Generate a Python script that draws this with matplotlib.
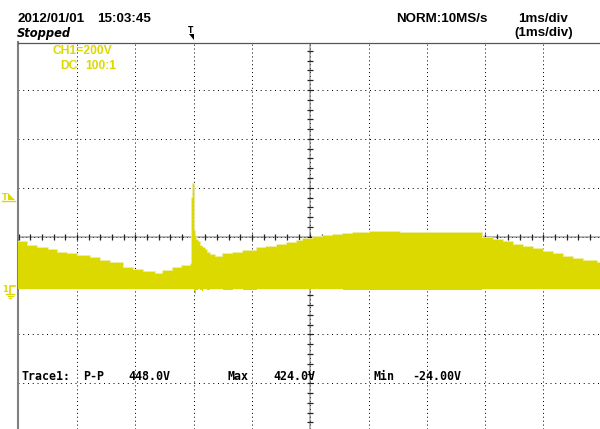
import numpy as np
import matplotlib.pyplot as plt

plt.rcParams['lines.scale_dashes'] = False

# scope settings
time_per_div = 1.0      # ms/div
volts_per_div = 200.0   # V/div (CH1=200V)
ground_div = 1.05       # CH1 ground marker sits this many divs below centre

# CH1 envelope: upper and lower edge of the yellow band (time in ms, volts)
t_ms = [-5.02, -4.86, -4.69, -4.50, -4.34, -4.17, -4.00, -3.78, -3.61, -3.44,
        -3.21, -3.04, -2.87, -2.66, -2.53, -2.35, -2.20, -2.05, -2.03, -2.01,
        -1.99, -1.98, -1.96, -1.93, -1.89, -1.86, -1.84, -1.80, -1.77, -1.72,
        -1.64, -1.50, -1.32, -1.15, -0.92, -0.75, -0.57, -0.40, -0.23, -0.12,
        0.05, 0.22, 0.39, 0.56, 0.73, 1.03, 1.54, 2.23, 2.79, 2.94,
        3.14, 3.31, 3.48, 3.65, 3.82, 3.99, 4.16, 4.34, 4.51, 4.68,
        4.92, 4.97]
v_upper = [188, 172, 164, 155, 143, 139, 131, 123, 110, 102,
           82, 74, 65, 57, 70, 82, 90, 98, 368, 424,
           232, 213, 196, 190, 172, 168, 164, 155, 143, 136,
           128, 138, 144, 153, 163, 169, 176, 185, 192, 200,
           207, 213, 218, 221, 226, 228, 225, 224, 224, 206,
           196, 187, 176, 166, 158, 148, 138, 128, 117, 112,
           103, 102]
v_lower = [-2, -4, -3, -6, -3, -4, -3, -6, -3, -4,
           -3, -3, -4, -3, -3, -4, -3, -3, -3, -3,
           -12, -24, -10, -6, -8, -12, -6, -4, -10, -4,
           -4, -8, -4, -10, -4, -4, -6, -4, -4, -4,
           -6, -6, -6, -8, -8, -8, -8, -8, -8, -6,
           -4, -6, -4, -4, -4, -6, -4, -4, -4, -4,
           -4, -4]

date_txt = "2012/01/01"
time_txt = "15:03:45"
state_txt = "Stopped"
acq_txt = "NORM:10MS/s"
tb_txt = "1ms/div"
tb2_txt = "(1ms/div)"
ch_txt = "CH1=200V"
coup_txt = ["DC", "100:1"]
meas_names = ["Trace1:", "P-P", "Max", "Min"]
meas_vals = ["448.0V", "424.0V", "-24.00V"]

yellow = '#dcd900'
W, H = 600, 429

fig = plt.figure(figsize=(6.0, 4.29), dpi=100)


def rect(x0, y0, x1, y1):
    return [x0 / W, 1 - y1 / H, (x1 - x0) / W, (y1 - y0) / H]


ax = fig.add_axes(rect(17.5, 42.5, 600, 429))
vc = ground_div * volts_per_div
ax.set_xlim(-5.02 * time_per_div, 4.97 * time_per_div)
ax.set_ylim(vc - 3.933 * volts_per_div, vc + 3.971 * volts_per_div)
ax.set_xticks([])
ax.set_yticks([])
for s in ['right', 'bottom']:
    ax.spines[s].set_visible(False)
ax.spines['left'].set_color('#808080')
ax.spines['left'].set_linewidth(1.5)
ax.spines['top'].set_color('#555555')
ax.spines['top'].set_linewidth(0.9)

# dotted graticule
for k in range(-4, 5):
    if k != 0:
        ax.axvline(k * time_per_div, color='black', lw=0.72,
                   ls=(0, (0.72, 2.1)), zorder=1)
for k in range(-3, 4):
    if k != 0:
        ax.axhline(vc + k * volts_per_div, color='black', lw=0.72,
                   ls=(0, (0.72, 2.7)), zorder=1)

# centre axes with minor ticks
ax.axhline(vc, color='#b0b0b0', lw=1.3, zorder=1)
ax.axvline(0, color='#b0b0b0', lw=1.3, zorder=1)
ax.axhline(vc, color='#333333', lw=0.72, ls=(0, (0.72, 2.1)), zorder=1.1)
ax.axvline(0, color='#333333', lw=0.72, ls=(0, (0.72, 2.1)), zorder=1.1)
xt = np.arange(-25, 25) * 0.2 * time_per_div
yt = vc + np.arange(-20, 21) * 0.2 * volts_per_div
ax.plot(xt, np.full(len(xt), vc), '|', ms=3.8, mew=0.9, color='#222222', zorder=1.2)
ax.plot(np.zeros(len(yt)), yt, '_', ms=3.8, mew=0.9, color='#222222', zorder=1.2)

# waveform band
ax.step(t_ms, v_upper, where='post', color='#ecea90', lw=1.3, zorder=2.9)
ax.fill_between(t_ms, v_lower, v_upper, step='post', color=yellow, lw=0, zorder=3)

# overlay in screen pixels for labels and markers
ov = fig.add_axes([0, 0, 1, 1])
ov.set_xlim(0, W)
ov.set_ylim(H, 0)
ov.axis('off')
ov.patch.set_alpha(0)

hdr = dict(family='Liberation Sans', weight='bold', size=9.6, color='black', va='baseline')
ov.text(17.3, 22.3, date_txt, **hdr)
ov.text(96.7, 22.3, time_txt, **hdr)
ov.text(441.7, 22.3, acq_txt, ha='center', **hdr)
ov.text(542.7, 22.3, tb_txt, ha='center', **hdr)
ov.text(543.3, 36.3, tb2_txt, ha='center', **hdr)
ov.text(17.3, 36.7, state_txt, family='DejaVu Sans', weight='bold', style='italic',
        size=8.3, color='black', va='baseline')

ch = dict(family='Liberation Sans', weight='bold', size=8.7, color=yellow, va='baseline')
ov.text(82.2, 54.3, ch_txt, ha='center', **ch)
ov.text(60, 69, coup_txt[0], **ch)
ov.text(85, 69, coup_txt[1], **ch)

mono = dict(family='DejaVu Sans Mono', weight='bold', size=8.4, color='black', va='baseline')
ov.text(21, 379.5, meas_names[0], **mono)
ov.text(83, 379.5, meas_names[1], **mono)
ov.text(128, 379.5, meas_vals[0], **mono)
ov.text(227, 379.5, meas_names[2], **mono)
ov.text(273, 379.5, meas_vals[1], **mono)
ov.text(373, 379.5, meas_names[3], **mono)
ov.text(412, 379.5, meas_vals[2], **mono)

# trigger position marker (top)
ov.text(190.5, 33, "T", family='DejaVu Sans', weight='bold', size=5.5, ha='center',
        va='baseline', color='black')
ov.fill([188.5, 193.5, 193.5], [33.5, 33.5, 39.5], color='black', lw=0)

# trigger level marker (left)
ov.text(5, 200, "T", family='DejaVu Sans', weight='bold', size=6, ha='center',
        va='baseline', color=yellow)
ov.fill([8, 8, 15], [193, 200, 200], color=yellow, lw=0)
ov.plot([2, 15], [200.5, 200.5], color=yellow, lw=1)

# CH1 ground marker
ov.text(4.5, 292, "1", family='DejaVu Sans', weight='bold', size=6, ha='center',
        va='baseline', color=yellow)
ov.plot([10, 10, 15], [293, 286, 286], color=yellow, lw=1.2)
ov.plot([6, 14], [293.5, 293.5], color=yellow, lw=1)
ov.plot([7.5, 12.5], [295.5, 295.5], color=yellow, lw=1)
ov.plot([9, 11], [297.5, 297.5], color=yellow, lw=1)

fig.savefig('out.png', dpi=100, facecolor='white')
